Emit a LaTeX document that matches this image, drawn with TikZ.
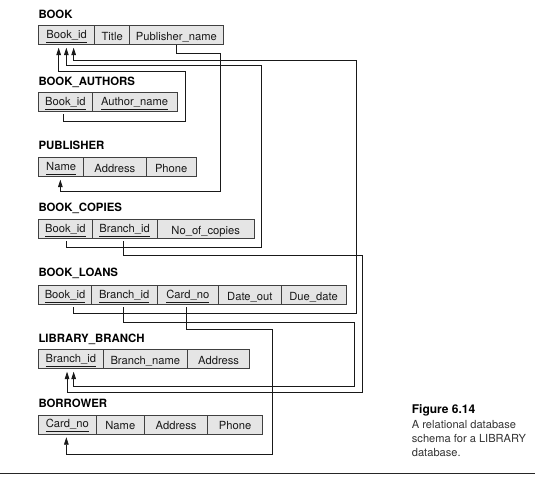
\documentclass[tikz,border=0pt]{standalone}
\usepackage{fontspec}
\setmainfont{TeX Gyre Heros}
\usetikzlibrary{arrows.meta}
\newcommand\ky[1]{\raisebox{2.3pt}{\underline{#1\rule[-2.4pt]{0pt}{1pt}}}}
\begin{document}
\begin{tikzpicture}[x=1pt,y=-1pt,
 cell/.style={draw=black!75, line width=0.7pt, fill=black!10, inner sep=0pt,
   minimum height=19pt, anchor=north west, text height=11pt, text depth=0pt,
   font=\fontsize{11.2}{13}\selectfont, text=black!90},
 ttl/.style={anchor=base west, inner sep=0pt, font=\fontsize{11.4}{13}\selectfont\bfseries},
 fk/.style={draw=black!90, line width=0.75pt, -{Triangle[length=7.5pt,width=4.6pt]}},
 captxt/.style={anchor=base west, inner sep=0pt, font=\fontsize{11.1}{13}\selectfont, text=black!80},
]
\useasboundingbox (0,0) rectangle (557,486);
\fill[white] (0,0) rectangle (557,486);

% BOOK
\node[ttl] (t-book) at (38.3,18.3) {BOOK};
\node[cell, minimum width=56pt] (book-id) at (38.3,25) {\ky{Book\_id}};
\node[cell, minimum width=35pt] (book-title) at (94.3,25) {Title};
\node[cell, minimum width=93.4pt] (book-pub) at (129.3,25) {Publisher\_name};

% BOOK_AUTHORS
\node[ttl] (t-ba) at (38.3,85.3) {BOOK\_AUTHORS};
\node[cell, minimum width=53.4pt] (ba-id) at (38.3,92) {\ky{Book\_id}};
\node[cell, minimum width=85pt] (ba-name) at (91.7,92) {\ky{Author\_name}};

% PUBLISHER
\node[ttl] (t-pub) at (38.3,149.5) {PUBLISHER};
\node[cell, minimum width=45pt] (pub-name) at (38.3,157) {\ky{Name}};
\node[cell, minimum width=62.4pt] (pub-addr) at (83.3,157) {Address};
\node[cell, minimum width=50.3pt] (pub-phone) at (145.7,157) {Phone};

% BOOK_COPIES
\node[ttl] (t-bc) at (38.3,211.7) {BOOK\_COPIES};
\node[cell, minimum width=53.4pt] (bc-id) at (38.3,219) {\ky{Book\_id}};
\node[cell, minimum width=65pt] (bc-branch) at (91.7,219) {\ky{Branch\_id}};
\node[cell, minimum width=97.3pt] (bc-num) at (156.7,219) {No\_of\_copies};

% BOOK_LOANS
\node[ttl] (t-bl) at (38.3,277) {BOOK\_LOANS};
\node[cell, minimum width=52.7pt] (bl-id) at (38.3,285) {\ky{Book\_id}};
\node[cell, minimum width=65.7pt] (bl-branch) at (91,285) {\ky{Branch\_id}};
\node[cell, minimum width=61.6pt] (bl-card) at (156.7,285) {\ky{Card\_no}};
\node[cell, minimum width=62.4pt] (bl-out) at (218.3,285) {Date\_out};
\node[cell, minimum width=65pt] (bl-due) at (280.7,285) {Due\_date};

% LIBRARY_BRANCH
\node[ttl] (t-lb) at (38.3,342.7) {LIBRARY\_BRANCH};
\node[cell, minimum width=64.4pt] (lb-id) at (38.3,349) {\ky{Branch\_id}};
\node[cell, minimum width=84.6pt] (lb-name) at (102.7,349) {Branch\_name};
\node[cell, minimum width=62pt] (lb-addr) at (187.3,349) {Address};

% BORROWER
\node[ttl] (t-bo) at (38.3,407.3) {BORROWER};
\node[cell, minimum width=57.4pt] (bo-card) at (38.3,414.5) {\ky{Card\_no}};
\node[cell, minimum width=48.6pt] (bo-name) at (95.7,414.5) {Name};
\node[cell, minimum width=63pt] (bo-addr) at (144.3,414.5) {Address};
\node[cell, minimum width=55pt] (bo-phone) at (207.3,414.5) {Phone};

% connectors
\draw[fk] ([xshift=-1.7pt,yshift=-2.5pt]ba-id.south) -- ++(0,7)
  -| (185,71.7) -| ([xshift=-8pt,yshift=-3pt]book-id.south);
\draw[fk] ([xshift=1pt,yshift=-2.5pt]bc-id.south) -- ++(0,6)
  -| (261.7,65.7) -| ([xshift=-0.3pt,yshift=-3pt]book-id.south);
\draw[fk] ([xshift=8.6pt,yshift=-2.5pt]bl-id.south) -- ++(0,6.5)
  -| (356.5,60.7) -| ([xshift=7pt,yshift=-3pt]book-id.south);
\draw[fk] ([xshift=-0.3pt]book-pub.south) -- ++(0,9)
  -| (220.7,191) -| ([xshift=-0.8pt,yshift=-3pt]pub-name.south);
\draw[fk] ([xshift=-0.9pt,yshift=-2.5pt]bc-branch.south) -- ++(0,14.5)
  -| (362.5,392.7) -| ([xshift=-3.8pt,yshift=-3pt]lb-id.south);
\draw[fk] ([xshift=-0.5pt,yshift=-2.5pt]bl-branch.south) -- ++(0,15.5)
  -| (354.3,386.5) -| ([xshift=2.8pt,yshift=-3pt]lb-id.south);
\draw[fk] ([xshift=-1.8pt,yshift=-2.5pt]bl-card.south) -- ++(0,22)
  -| (272.5,454.3) -| ([xshift=-1pt,yshift=-3pt]bo-card.south);

% caption
\node[anchor=base west, inner sep=0pt, font=\fontsize{12}{13}\selectfont\bfseries] (fig) at (411.7,413.3) {Figure 6.14};
\node[captxt] (cap1) at (411.7,428.3) {A relational database};
\node[captxt] (cap2) at (411.7,442.5) {schema for a LIBRARY};
\node[captxt] (cap3) at (411.7,456.5) {database.};

\draw[line width=1.1pt, black!85] (0,473.3) -- (535,473.3);
\end{tikzpicture}
\end{document}
